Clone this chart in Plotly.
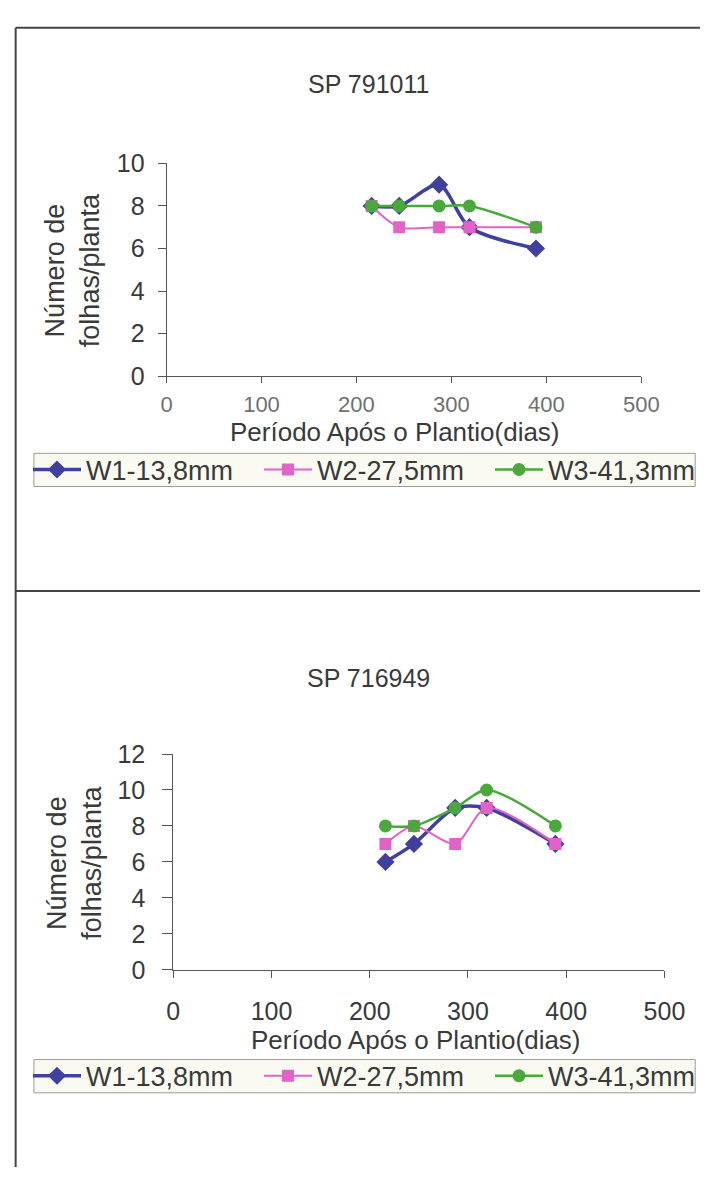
import plotly.graph_objects as go

# Days after planting at which leaves were counted
dias = [216, 245, 287, 319, 389]

# Leaves per plant, cultivar SP 791011
sp791011_w1 = [8, 8, 9, 7, 6]
sp791011_w2 = [8, 7, 7, 7, 7]
sp791011_w3 = [8, 8, 8, 8, 7]

# Leaves per plant, cultivar SP 716949
sp716949_w1 = [6, 7, 9, 9, 7]
sp716949_w2 = [7, 8, 7, 9, 7]
sp716949_w3 = [8, 8, 9, 10, 8]

serie_nomes = ["W1-13,8mm", "W2-27,5mm", "W3-41,3mm"]
x_ticks = [0, 100, 200, 300, 400, 500]
y_ticks_sup = [0, 2, 4, 6, 8, 10]
y_ticks_inf = [0, 2, 4, 6, 8, 10, 12]

W, H = 721, 1181
FONT = "Liberation Sans, Arial, sans-serif"
TXT = "#3a3a3a"

estilos = [
    dict(color="#40409f", symbol="diamond", size=14, width=3.5),
    dict(color="#e263c8", symbol="square", size=12, width=2),
    dict(color="#4aa83c", symbol="circle", size=13, width=2.5),
]


def px_x(v):
    return v / W


def px_y(v):
    return (H - v) / H


fig = go.Figure()

paineis = [
    ("x", "y", "legend", [sp791011_w1, sp791011_w2, sp791011_w3]),
    ("x2", "y2", "legend2", [sp716949_w1, sp716949_w2, sp716949_w3]),
]
for xa, ya, leg, series in paineis:
    for nome, vals, st in zip(serie_nomes, series, estilos):
        fig.add_trace(go.Scatter(
            x=dias, y=vals, name=nome, xaxis=xa, yaxis=ya, legend=leg,
            mode="lines+markers",
            line=dict(color=st["color"], width=st["width"], shape="spline", smoothing=0.8),
            marker=dict(symbol=st["symbol"], size=st["size"], color=st["color"],
                        line=dict(width=0)),
        ))

eixo_comum = dict(
    showgrid=False, zeroline=False, showline=True, linecolor="#555", linewidth=1,
    ticks="outside", tickcolor="#555",
)

fig.update_layout(
    width=W, height=H,
    margin=dict(l=0, r=0, t=0, b=0),
    paper_bgcolor="white", plot_bgcolor="white",
    font=dict(family=FONT, color=TXT),
    showlegend=True,
    xaxis=dict(domain=[px_x(166), px_x(660)], range=[0, 500], tickvals=x_ticks,
               anchor="y", ticklen=6, ticklabelstandoff=2,
               tickfont=dict(family=FONT, size=22, color="#707070"), **eixo_comum),
    yaxis=dict(domain=[px_y(371), px_y(153)], range=[0, 10], tickvals=y_ticks_sup,
               anchor="x", ticklen=8, ticklabelstandoff=8,
               tickfont=dict(family=FONT, size=25, color=TXT), **eixo_comum),
    xaxis2=dict(domain=[px_x(173), px_x(684)], range=[0, 500], tickvals=x_ticks,
                anchor="y2", ticklen=7, ticklabelstandoff=12,
                tickfont=dict(family=FONT, size=25, color=TXT), **eixo_comum),
    yaxis2=dict(domain=[px_y(979), px_y(758)], range=[0, 12], tickvals=y_ticks_inf,
                anchor="x2", ticklen=10, ticklabelstandoff=12,
                tickfont=dict(family=FONT, size=25, color=TXT), **eixo_comum),
)

# Legends: items only, the framed box is drawn as a shape
leg_base = dict(
    orientation="h", xanchor="left", yanchor="middle",
    bgcolor="rgba(0,0,0,0)", borderwidth=0,
    font=dict(family=FONT, size=27, color=TXT),
    itemwidth=48, entrywidth=168, tracegroupgap=0,
)
leg_centros = [467, 1088]
fig.update_layout(
    legend=dict(x=px_x(24), y=px_y(leg_centros[0]), **leg_base),
    legend2=dict(x=px_x(24), y=px_y(leg_centros[1]), **leg_base),
)
for yc in leg_centros:
    fig.add_shape(type="rect", xref="paper", yref="paper", layer="below",
                  x0=px_x(28), x1=px_x(716), y0=px_y(yc + 17), y1=px_y(yc - 17),
                  line=dict(color="#9a9a9a", width=1), fillcolor="#fafaf2")

# Chart titles and axis titles
textos = [
    ("SP 791011", 376, 72, 0, 25),
    ("SP 716949", 376, 680, 0, 25),
    ("Período Após o Plantio(dias)", 404, 428, 0, 26),
    ("Período Após o Plantio(dias)", 426, 1051, 0, 26),
    ("Número de<br>folhas/planta", 68, 262, -90, 27),
    ("Número de<br>folhas/planta", 70, 869, -90, 27),
]
for t, x, y, ang, sz in textos:
    fig.add_annotation(text=t, x=px_x(x), y=px_y(y), xref="paper", yref="paper",
                       showarrow=False, textangle=ang, xanchor="center", yanchor="middle",
                       font=dict(family=FONT, size=sz, color=TXT))

# Frame lines of the page
linha = dict(color="#444", width=2)
fig.add_shape(type="line", xref="paper", yref="paper",
              x0=px_x(9), x1=1, y0=px_y(14), y1=px_y(14), line=linha)
fig.add_shape(type="line", xref="paper", yref="paper",
              x0=px_x(9), x1=1, y0=px_y(591), y1=px_y(591), line=linha)
fig.add_shape(type="line", xref="paper", yref="paper",
              x0=px_x(9), x1=px_x(9), y0=px_y(14), y1=0, line=linha)

fig.write_html("out.html")
